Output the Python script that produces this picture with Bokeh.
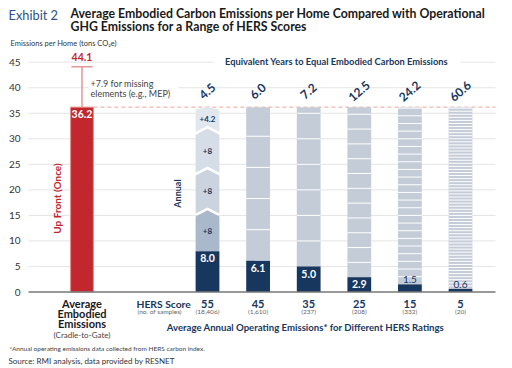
import math
import numpy as np
from bokeh.plotting import figure
from bokeh.models import Range1d
from bokeh.core.properties import value
from bokeh.embed import file_html
from bokeh.resources import INLINE

# ---------------- data ----------------
hers_scores = ["55", "45", "35", "25", "15", "5"]
sample_counts = ["(18,406)", "(1,610)", "(237)", "(208)", "(332)", "(20)"]
annual_ops = [8.0, 6.1, 5.0, 2.9, 1.5, 0.6]
years_equal = ["4.5", "6.0", "7.2", "12.5", "24.2", "60.6"]
embodied = 36.2
missing = 7.9
embodied_total = 44.1
annual_steps = [8, 8, 8, 4.2]
annual_step_labels = ["+8", "+8", "+8", "+4.2"]
y_ticks = [0, 5, 10, 15, 20, 25, 30, 35, 40, 45]

# ---------------- layout helpers ----------------
W, H = 512, 368
X0_PAGE, XS = 207.0, 50.6     # picture px of first HERS bar centre, px per slot
Y0_PAGE, YS = 291.5, 5.107    # picture px of y=0, px per ton


def dx(px):
    return (px - X0_PAGE) / XS


def dy(py):
    return (Y0_PAGE - py) / YS


FONT = "Lato"
NAVY = "#17375e"
RED = "#c1272d"

p = figure(width=W, height=H, output_backend="svg", toolbar_location=None,
           x_range=Range1d(dx(0), dx(W)), y_range=Range1d(dy(H), dy(0)),
           min_border=0)
p.axis.visible = False
p.grid.visible = False
p.outline_line_color = None
p.background_fill_color = "white"


def txt(x, y, s, size, color, style="normal", align="left", angle=0.0, font=FONT):
    p.text(x=[x], y=[y], text=[s], text_font=value(font), text_font_size=f"{size}px",
           text_color=color, text_font_style=style, text_align=align,
           text_baseline="middle", angle=angle)


def blank(px0, px1, py0, py1):
    p.quad(left=[dx(px0)], right=[dx(px1)], bottom=[dy(py1)], top=[dy(py0)],
           fill_color="white", line_color=None)


# ---------------- grid & axis ----------------
gx0, gx1 = dx(28), dx(495)
grid_vals = [t for t in y_ticks if t > 0]
p.segment(x0=[gx0] * len(grid_vals), x1=[gx1] * len(grid_vals), y0=grid_vals, y1=grid_vals,
          line_color="#e4e4e4", line_width=1)
p.text(x=[dx(20)] * len(y_ticks), y=y_ticks, text=[str(t) for t in y_ticks],
       text_font=value(FONT), text_font_size="10px", text_color="#333333",
       text_align="right", text_baseline="middle")

# ---------------- embodied bar ----------------
x_emb = dx(81.5)
bw_emb = 0.45
p.segment(x0=[x_emb + bw_emb / 2], x1=[gx1], y0=[embodied], y1=[embodied],
          line_color="#f2a198", line_width=1, line_dash="4 3")
p.vbar(x=[x_emb], top=[embodied], bottom=[0], width=bw_emb, fill_color=RED,
       line_color="#e58a8a", line_width=1)
p.segment(x0=[x_emb], x1=[x_emb], y0=[embodied], y1=[embodied + missing],
          line_color="#e39797", line_width=1.5)
p.segment(x0=[x_emb - 0.21], x1=[x_emb + 0.21], y0=[embodied_total], y1=[embodied_total],
          line_color="#e39797", line_width=1.5)
txt(x_emb, embodied_total + 1.9, f"{embodied_total:.1f}", 10.5, RED, "bold", "center")
txt(x_emb, embodied - 1.35, f"{embodied:.1f}", 10.5, "white", "bold", "center")
blank(88, 178, 77, 98)
txt(dx(90), dy(82.5), f"+{missing} for missing", 9, "#444444")
txt(dx(90), dy(93), "elements (e.g., MEP)", 9, "#444444")
txt(dx(56), dy(198), "Up Front (Once)", 10, RED, "bold", "center", angle=math.pi / 2)

# ---------------- HERS bars ----------------
bw = 0.47
xs_bars = np.arange(len(annual_ops))
for i in range(1, len(annual_ops)):
    v = annual_ops[i]
    p.vbar(x=[xs_bars[i]], bottom=[v], top=[embodied], width=bw,
           fill_color="#c4ccd8", line_color=None)
    n = int(math.floor(embodied / v - 1e-9))
    seps = [v * k for k in range(2, n + 1) if v * k < embodied - 0.05]
    if seps:
        p.segment(x0=[xs_bars[i] - bw / 2] * len(seps), x1=[xs_bars[i] + bw / 2] * len(seps),
                  y0=seps, y1=seps, line_color="white", line_width=1)

chev_colors = ["#a9b8cb", "#cbd3de", "#d7dde6", "#e2e7ee"]
h, g = 1.2, 0.55
xl, xr = xs_bars[0] - bw / 2, xs_bars[0] + bw / 2
xc = xs_bars[0]
cum = annual_ops[0]
pxs, pys, mids = [], [], []
for k, step in enumerate(annual_steps):
    b, t = cum, cum + step
    if k == 0:
        b_side, b_notch = b, b
    else:
        b_side, b_notch = b - h + g, b + g
    if k == len(annual_steps) - 1:
        t_side, t_peak = t - 0.45, t
    else:
        t_side, t_peak = t - h, t
    pxs.append([xl, xl, xc, xr, xr, xc])
    pys.append([b_side, t_side, t_peak, t_side, b_side, b_notch])
    mids.append((b + t) / 2 - (0.3 if k > 0 else 0))
    cum = t
p.patches(xs=pxs, ys=pys, fill_color=chev_colors, line_color=None)
p.text(x=[xc] * len(mids), y=mids, text=annual_step_labels, text_font=value(FONT),
       text_font_size="8px", text_color=NAVY, text_font_style="bold",
       text_align="center", text_baseline="middle")

p.vbar(x=xs_bars, bottom=0, top=annual_ops, width=bw, fill_color=NAVY, line_color=None)
for i, v in enumerate(annual_ops):
    if v >= 2.5:
        txt(xs_bars[i], v - 1.4, f"{v:.1f}", 10.5, "white", "bold", "center")
    else:
        txt(xs_bars[i], v + 0.9, f"{v:.1f}", 10, NAVY, "normal", "center")

txt(dx(177), dy(193), "Annual", 9, NAVY, "bold", "center", angle=math.pi / 2)

p.text(x=xs_bars, y=[dy(91)] * len(xs_bars), text=years_equal, text_font=value(FONT),
       text_font_size="12px", text_color=NAVY, text_font_style="bold",
       text_align="center", text_baseline="middle", angle=0.72)
blank(213, 460, 55, 68)
txt(dx(336), dy(61), "Equivalent Years to Equal Embodied Carbon Emissions", 9.3, NAVY,
    "bold", "center")

p.segment(x0=[gx0], x1=[gx1], y0=[0], y1=[0], line_color="#777777", line_width=1.5)

# ---------------- bottom labels ----------------
for j, s in enumerate(["Average", "Embodied", "Emissions"]):
    txt(x_emb, dy(302.5 + 10 * j), s, 11, "#1a1a1a", "bold", "center")
txt(x_emb, dy(334), "(Cradle-to-Gate)", 8, "#444444", "normal", "center")
txt(dx(136), dy(303), "HERS Score", 10.3, NAVY, "bold", "left")
txt(dx(137), dy(311), "(no. of samples)", 6.5, "#666666", "normal", "left")
p.text(x=xs_bars, y=[dy(303)] * len(xs_bars), text=hers_scores, text_font=value(FONT),
       text_font_size="11px", text_color=NAVY, text_font_style="bold",
       text_align="center", text_baseline="middle")
p.text(x=xs_bars, y=[dy(311)] * len(xs_bars), text=sample_counts, text_font=value(FONT),
       text_font_size="6.5px", text_color="#666666",
       text_align="center", text_baseline="middle")
txt(dx(305), dy(327), "Average Annual Operating Emissions* for Different HERS Ratings", 9.6,
    NAVY, "bold", "center")

# ---------------- titles & notes ----------------
txt(dx(8), dy(14), "Exhibit 2", 12.8, "#2d5183", "normal", "left")
txt(dx(70), dy(13), "Average Embodied Carbon Emissions per Home Compared with Operational",
    12.3, "#1a1a1a", "bold", "left")
txt(dx(70), dy(26), "GHG Emissions for a Range of HERS Scores", 12.3, "#1a1a1a", "bold", "left")
txt(dx(10), dy(43), "Emissions per Home (tons CO\u2082e)", 7.5, "#333333", "normal", "left")
txt(dx(9), dy(347.5), "*Annual operating emissions data collected from HERS carbon index.", 6.5,
    "#444444", "normal", "left")
txt(dx(8), dy(360), "Source: RMI analysis, data provided by RESNET", 8, "#333333",
    "normal", "left")

open("out.html", "w").write(file_html(p, INLINE))
